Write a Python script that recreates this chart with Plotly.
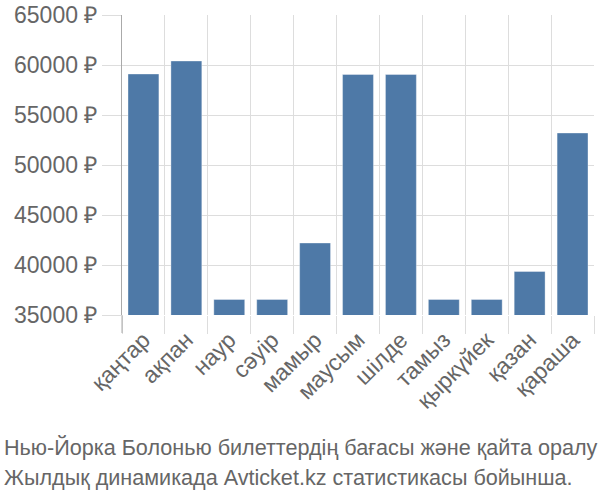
import plotly.graph_objects as go

months = ["қаңтар", "ақпан", "наур", "сәуір", "мамыр", "маусым", "шілде",
          "тамыз", "қыркүйек", "қазан", "қараша"]
prices = [59100, 60400, 36550, 36550, 42200, 59050, 59050, 36550, 36550, 39350, 53200]
tick_vals = [35000, 40000, 45000, 50000, 55000, 60000, 65000]
tick_text = [f"{v} ₽" for v in tick_vals]
caption_lines = ["Нью-Йорка Болонью билеттердің бағасы және қайта оралу",
                 "Жылдық динамикада Avticket.kz статистикасы бойынша."]

FONT = "Liberation Sans, Arial, sans-serif"
GRAY = "#666666"
GRID = "#dddddd"

fig = go.Figure(go.Bar(
    x=months, y=prices,
    marker=dict(color="#4e79a7", line=dict(color="rgba(255,255,255,0.35)", width=1)),
    width=0.72,
))

fig.update_layout(
    width=600, height=500,
    margin=dict(l=122, r=6, t=15, b=185, autoexpand=False),
    plot_bgcolor="white", paper_bgcolor="white",
    font=dict(family=FONT, size=22, color=GRAY),
    showlegend=False,
)
fig.update_xaxes(
    type="category", tickson="boundaries", showgrid=True, gridcolor=GRID, gridwidth=1,
    ticks="outside", ticklen=18, tickcolor=GRID, tickangle=-45, automargin=False,
    ticklabelstandoff=6,
    tickfont=dict(family=FONT, size=23, color=GRAY), showline=False, zeroline=False,
)
fig.update_yaxes(
    range=[35000, 65000], tickvals=tick_vals, ticktext=tick_text, automargin=False,
    showgrid=True, gridcolor=GRID, gridwidth=1,
    ticks="outside", ticklen=19, tickcolor=GRID,
    showline=True, linecolor="#aaaaaa", linewidth=1, zeroline=False,
    tickfont=dict(family=FONT, size=23, color=GRAY),
)
fig.add_shape(type="line", xref="paper", yref="paper", x0=0, x1=0, y0=-18/300, y1=0,
              line=dict(color="#aaaaaa", width=1))
for i, (line, yy) in enumerate(zip(caption_lines, [-0.44, -0.54])):
    fig.add_annotation(text=line, xref="paper", yref="paper", x=-120/472, y=yy,
                       xanchor="left", yanchor="middle", showarrow=False,
                       font=dict(family=FONT, size=21.6, color=GRAY))

fig.write_html("out.html", config={"displayModeBar": False},
               post_script="document.body.style.margin='0';")
